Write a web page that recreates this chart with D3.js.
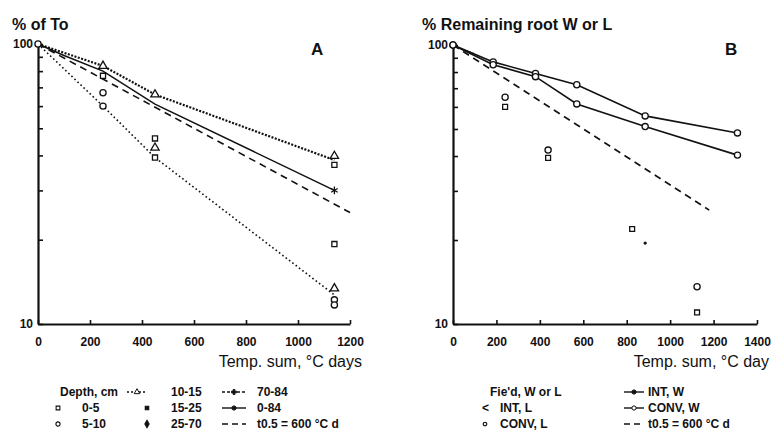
<!DOCTYPE html>
<html>
<head>
<meta charset="utf-8">
<script src="https://cdn.jsdelivr.net/npm/d3@7"></script>
<style>
  body { margin: 0; background: #fff; }
  svg text { font-family: "Liberation Sans", Arial, sans-serif; fill: #111; }
</style>
</head>
<body>
<svg id="chart" width="772" height="433"></svg>
<script>
// ---- data ----
// panel A: decomposition by depth, % of To vs temperature sum
var xTicksA = [0, 200, 400, 600, 800, 1000, 1200];
var yTicks = [10, 20, 30, 40, 50, 60, 70, 80, 90, 100];
var depth10_15 = [[0, 100], [250, 83.5], [450, 66], [1140, 38.5]];
var depth70_84 = [[0, 100], [250, 60], [450, 39.3], [1140, 12.7]];
var depth0_84 = [[0, 100], [100, 91], [250, 80], [450, 61], [1140, 30]];
var halfLifeA = [[0, 100], [1200, 25]];
var squaresA = [[250, 77], [450, 46], [450, 39.3], [1140, 37], [1140, 19.3]];
var circlesA = [[0, 100], [250, 67], [250, 60], [1140, 12.2], [1140, 11.7]];
var trianglesA = [[250, 83.5], [450, 66], [450, 42.6], [1140, 39.8], [1140, 13.4]];
var starsA = [[1140, 30]];

// panel B: field data, % remaining root W or L
var xTicksB = [0, 200, 400, 600, 800, 1000, 1200, 1400];
var intW = [[0, 100], [185, 87], [380, 79], [570, 72], [885, 55.7], [1310, 48.4]];
var convW = [[0, 100], [185, 85], [380, 77], [570, 61.5], [885, 51], [1310, 40.3]];
var halfLifeB = [[0, 100], [1180, 25.6]];
var faintB = [[0, 100], [100, 93]];
var intL = [[240, 60], [438, 39.4], [825, 21.9], [1124, 11]];
var convL = [[240, 65], [438, 42], [1124, 13.6]];
var strayB = [[885, 19.5]];

var legendA = [
  ["Depth, cm", "10-15", "70-84"],
  ["0-5", "15-25", "0-84"],
  ["5-10", "25-70", "t0.5 = 600 °C d"]
];
var legendB = [
  ["Fie'd, W or L", "INT, W"],
  ["INT, L", "CONV, W"],
  ["CONV, L", "t0.5 = 600 °C d"]
];

var ink = "#111";
var svg = d3.select("#chart");

//
// one panel: log y axis 10..100, linear x axis, ticks pointing in
function panel(opt) {
  var x = d3.scaleLinear().domain(opt.xDomain).range(opt.xRange);
  var y = d3.scaleLog().domain([10, 100]).range(opt.yRange);
  var g = svg.append("g");

  var xa = g.append("g")
    .attr("transform", "translate(0," + opt.yRange[0] + ")")
    .call(d3.axisBottom(x).tickValues(opt.xTicks).tickSize(-4).tickSizeOuter(0)
      .tickPadding(13).tickFormat(d3.format("d")));
  var ya = g.append("g")
    .attr("transform", "translate(" + opt.xRange[0] + ",0)")
    .call(d3.axisLeft(y).tickValues(yTicks).tickSize(-5).tickSizeOuter(0)
      .tickPadding(5).tickFormat(function(d) { return d === 10 || d === 100 ? d : ""; }));
  [xa, ya].forEach(function(a) {
    a.select(".domain").attr("stroke", ink).attr("stroke-width", 2.2);
    a.selectAll(".tick line").attr("stroke", ink).attr("stroke-width", 1.6);
    a.selectAll("text").attr("font-size", 12).attr("font-weight", "bold").attr("fill", ink);
  });

  g.append("text").attr("x", opt.titleX).attr("y", 30)
    .attr("font-size", 16).attr("font-weight", "bold").text(opt.title);
  g.append("text").attr("x", opt.letterX).attr("y", 55)
    .attr("font-size", 17).attr("font-weight", "bold").text(opt.letter);
  g.append("text").attr("x", opt.xRange[1] + 12).attr("y", 367)
    .attr("text-anchor", "end").attr("font-size", 16).text(opt.xTitle);

  return { g: g, x: x, y: y };
}

function drawLine(p, data, dash, width) {
  var line = d3.line().x(function(d) { return p.x(d[0]); }).y(function(d) { return p.y(d[1]); });
  p.g.append("path").datum(data).attr("d", line)
    .attr("fill", "none").attr("stroke", ink)
    .attr("stroke-width", width || 1.5)
    .attr("stroke-dasharray", dash || null);
}

function drawMarks(p, data, type, size, filled) {
  p.g.selectAll(null).data(data).enter().append("path")
    .attr("transform", function(d) { return "translate(" + p.x(d[0]) + "," + p.y(d[1]) + ")"; })
    .attr("d", d3.symbol().type(type).size(size))
    .attr("fill", filled ? ink : "#fff").attr("stroke", ink).attr("stroke-width", 1.3);
}

// ---- panel A ----
var pa = panel({ xDomain: [0, 1200], xRange: [38, 350], yRange: [324, 44], xTicks: xTicksA,
  title: "% of To", titleX: 12, letter: "A", letterX: 311, xTitle: "Temp. sum, °C days" });
drawLine(pa, halfLifeA, "7,5", 1.6);
drawLine(pa, depth0_84, null, 1.5);
drawLine(pa, depth10_15, "2,1.5", 2.2);
drawLine(pa, depth70_84, "1.6,2.6", 1.6);
drawMarks(pa, squaresA, d3.symbolSquare, 26, false);
drawMarks(pa, circlesA, d3.symbolCircle, 30, false);
drawMarks(pa, trianglesA, d3.symbolTriangle, 30, false);
drawMarks(pa, starsA, d3.symbolAsterisk, 40, false);

// ---- panel B ----
var pb = panel({ xDomain: [0, 1400], xRange: [453, 757], yRange: [324, 45], xTicks: xTicksB,
  title: "% Remaining root W or L", titleX: 422, letter: "B", letterX: 725, xTitle: "Temp. sum, °C day" });
drawLine(pb, faintB, "1,2", 1.2);
drawLine(pb, halfLifeB, "7,5", 1.6);
drawLine(pb, intW, null, 1.6);
drawLine(pb, convW, null, 1.6);
drawMarks(pb, intW, d3.symbolCircle, 30, false);
drawMarks(pb, convW, d3.symbolCircle, 30, false);
drawMarks(pb, intL, d3.symbolSquare, 24, false);
drawMarks(pb, convL, d3.symbolCircle, 30, false);
drawMarks(pb, strayB, d3.symbolCircle, 3, true);

//
// legends below each panel
var rowY = [396, 412, 428];

function sample(g, x0, x1, y, dash, sym, filled) {
  g.append("line").attr("x1", x0).attr("x2", x1).attr("y1", y).attr("y2", y)
    .attr("stroke", ink).attr("stroke-width", 1.4).attr("stroke-dasharray", dash || null);
  if (sym) {
    g.append("path").attr("transform", "translate(" + ((x0 + x1) / 2) + "," + y + ")")
      .attr("d", d3.symbol().type(sym).size(14))
      .attr("fill", filled ? ink : "#fff").attr("stroke", ink).attr("stroke-width", 1);
  }
}

function mark(g, cx, y, sym, filled, size) {
  g.append("path").attr("transform", "translate(" + cx + "," + y + ")")
    .attr("d", d3.symbol().type(sym).size(size || 14))
    .attr("fill", filled ? ink : "#fff").attr("stroke", ink).attr("stroke-width", 1.1);
}

var lgA = svg.append("g").attr("font-size", 12).attr("font-weight", "bold");
lgA.append("text").attr("x", 60).attr("y", rowY[0]).text(legendA[0][0]);
lgA.append("text").attr("x", 82).attr("y", rowY[1]).text(legendA[1][0]);
lgA.append("text").attr("x", 82).attr("y", rowY[2]).text(legendA[2][0]);
mark(lgA, 58, rowY[1] - 4, d3.symbolSquare, false);
mark(lgA, 58, rowY[2] - 4, d3.symbolCircle, false);
[0, 1, 2].forEach(function(r) {
  lgA.append("text").attr("x", 171).attr("y", rowY[r]).text(legendA[r][1]);
  lgA.append("text").attr("x", 257).attr("y", rowY[r]).text(legendA[r][2]);
});
sample(lgA, 127, 147, rowY[0] - 4, "2,2", d3.symbolTriangle, false);
mark(lgA, 147, rowY[1] - 4, d3.symbolSquare, true, 12);
mark(lgA, 147, rowY[2] - 4, d3.symbolDiamond, true, 16);
sample(lgA, 222, 246, rowY[0] - 4, "3,2", d3.symbolCross, true);
sample(lgA, 222, 246, rowY[1] - 4, null, d3.symbolCircle, true);
sample(lgA, 222, 246, rowY[2] - 4, "6,4", null);

var lgB = svg.append("g").attr("font-size", 12).attr("font-weight", "bold");
lgB.append("text").attr("x", 490).attr("y", rowY[0]).text(legendB[0][0]);
lgB.append("text").attr("x", 500).attr("y", rowY[1]).text(legendB[1][0]);
lgB.append("text").attr("x", 500).attr("y", rowY[2]).text(legendB[2][0]);
lgB.append("text").attr("x", 482).attr("y", rowY[1]).text("<");
mark(lgB, 485, rowY[2] - 4, d3.symbolCircle, false, 10);
[0, 1, 2].forEach(function(r) {
  lgB.append("text").attr("x", 648).attr("y", rowY[r]).text(legendB[r][1]);
});
sample(lgB, 624, 644, rowY[0] - 4, null, d3.symbolCircle, true);
sample(lgB, 624, 644, rowY[1] - 4, null, d3.symbolCircle, false);
sample(lgB, 624, 644, rowY[2] - 4, "6,4", null);
</script>
</body>
</html>
